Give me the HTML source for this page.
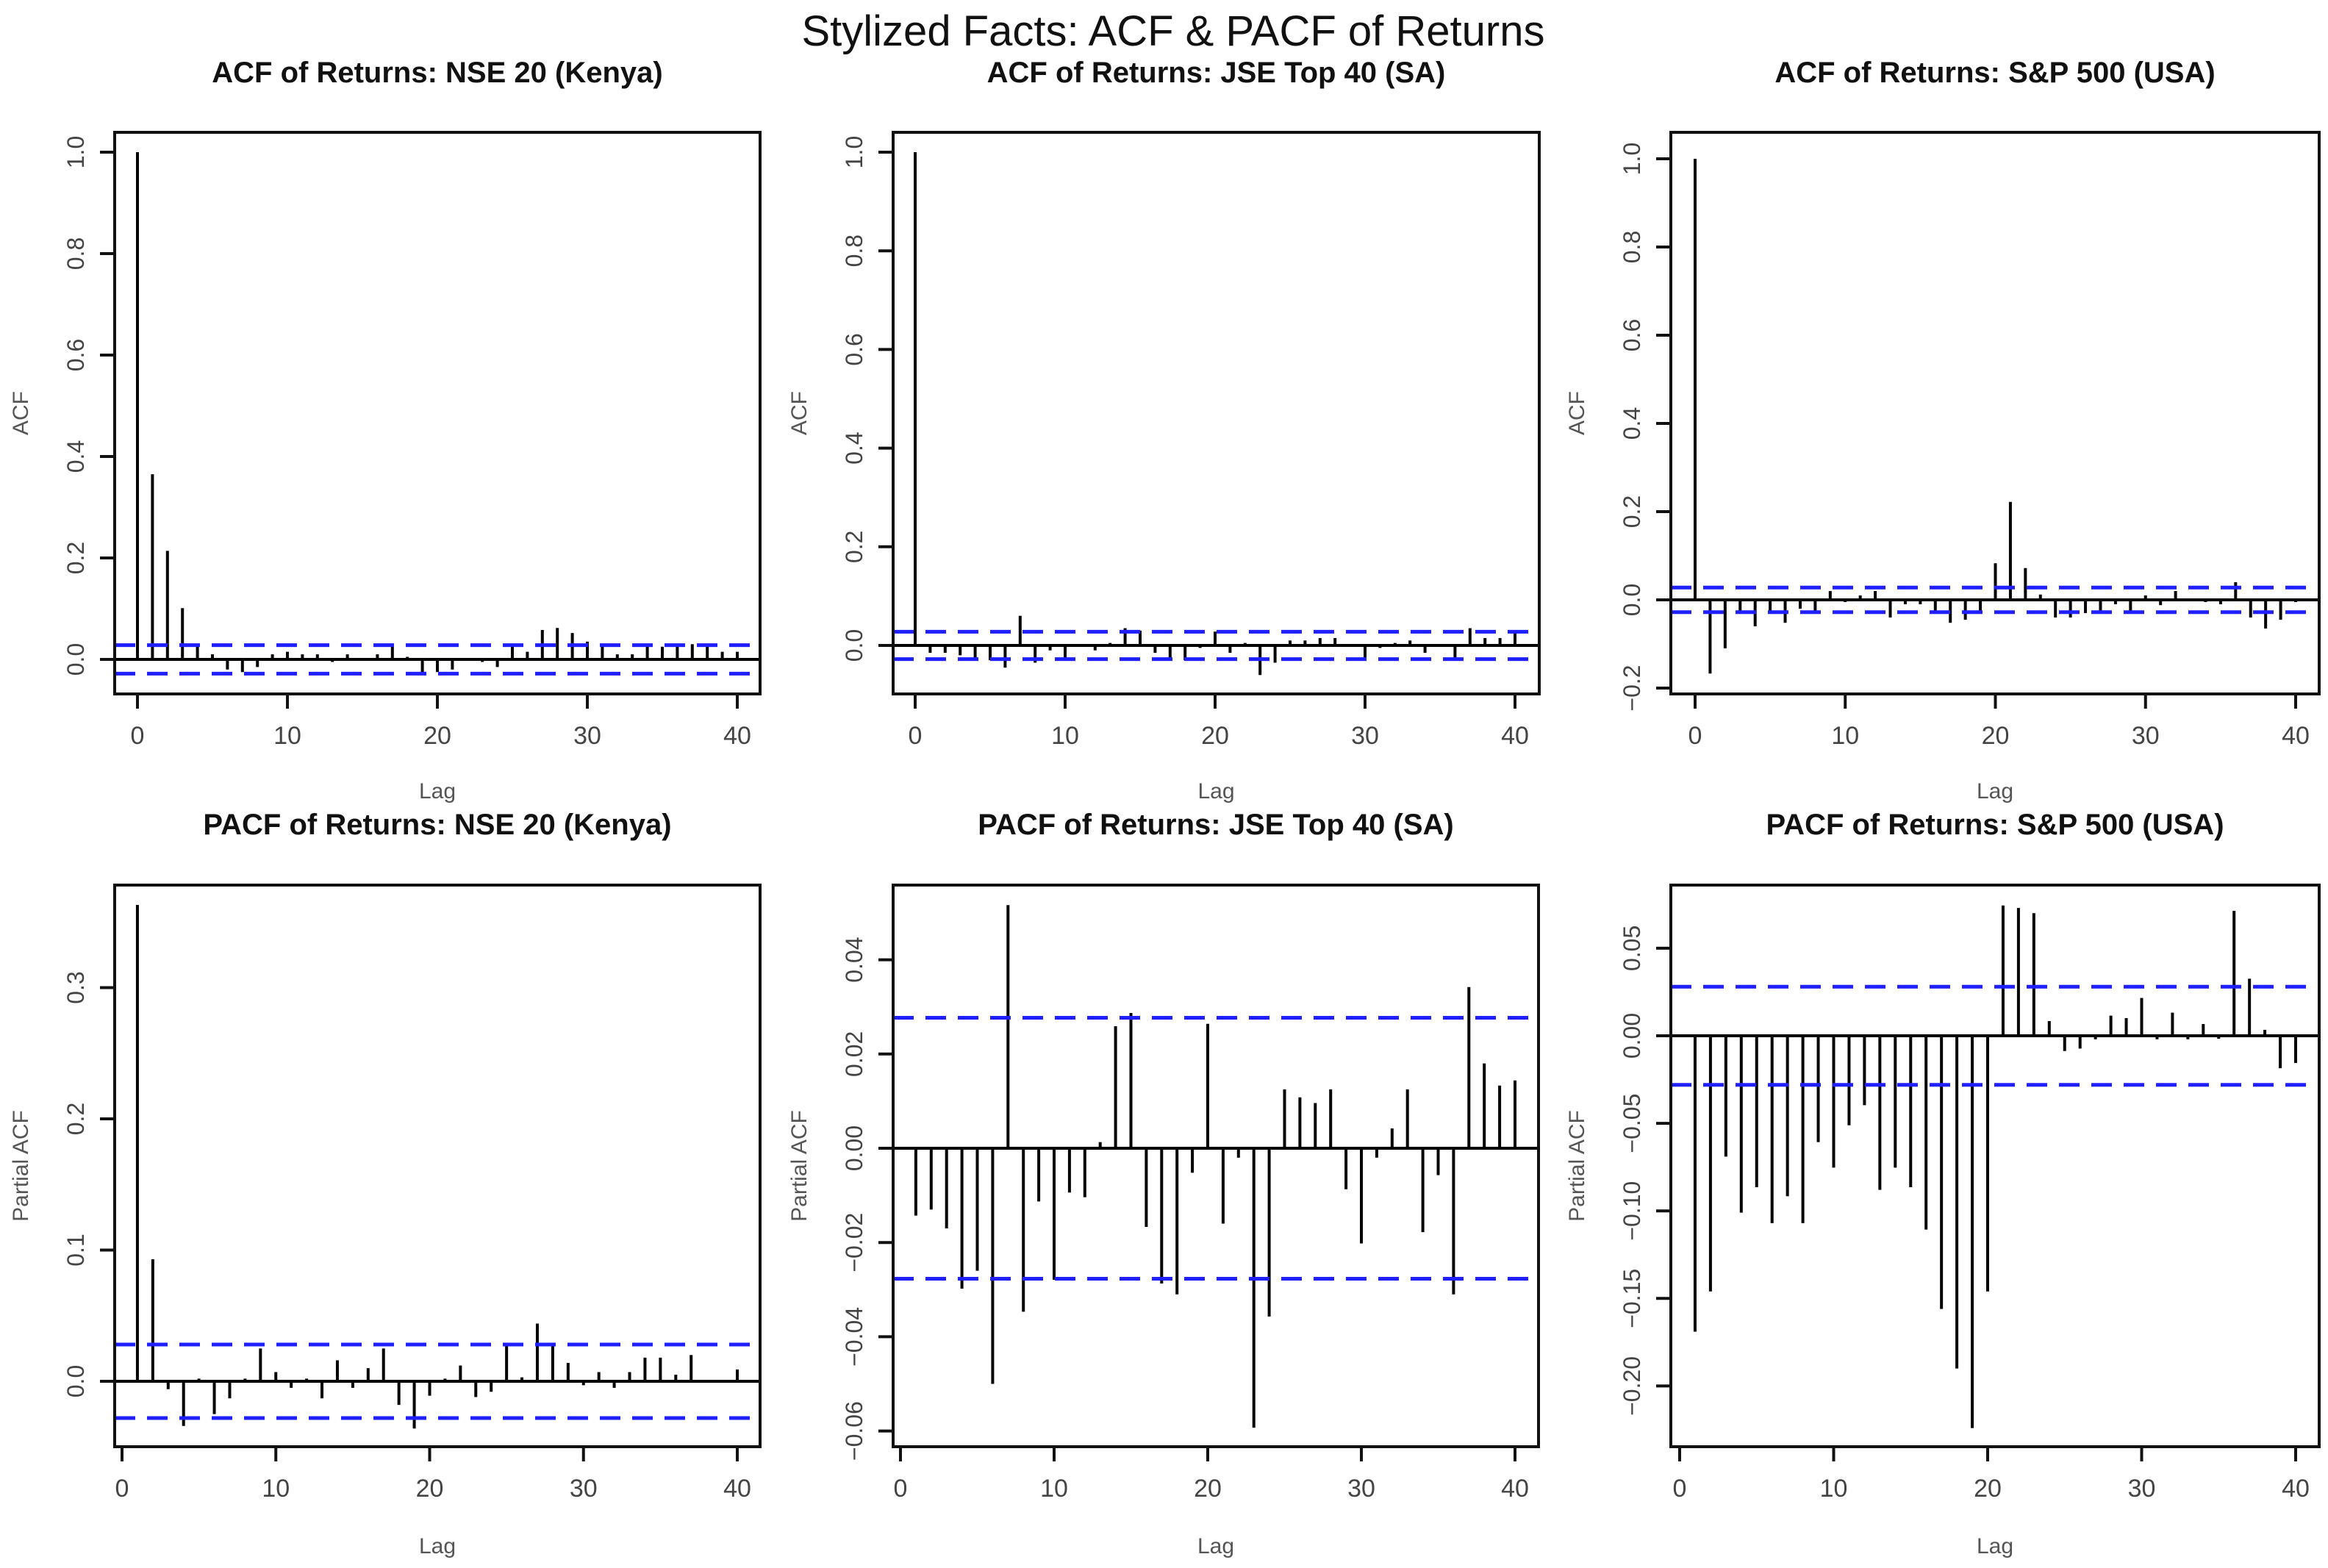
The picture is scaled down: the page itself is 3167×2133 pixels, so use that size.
<!DOCTYPE html>
<html><head><meta charset="utf-8"><style>
html,body{margin:0;padding:0;background:#fff;}
svg{display:block;font-family:"Liberation Sans",Arial,sans-serif;}
</style></head><body>
<svg id="chart" width="3167" height="2133" viewBox="0 0 3167 2133" xmlns="http://www.w3.org/2000/svg">
<rect width="3167" height="2133" fill="#fff"/>
<text x="1596" y="62" font-size="58" text-anchor="middle" fill="#111">Stylized Facts: ACF &amp; PACF of Returns</text>
</svg>
<script>
const lagsAcf = Array.from({length:41},(_,i)=>i);
const lagsPacf = Array.from({length:40},(_,i)=>i+1);
const acfNse = [1,0.365,0.214,0.101,0.03,0.01,-0.02,-0.025,-0.015,0.01,0.015,0.01,0.01,-0.005,0.01,0,0.01,0.025,0.005,-0.025,-0.025,-0.02,0,-0.005,-0.015,0.025,0.015,0.058,0.062,0.052,0.035,0.025,0.01,0.01,0.025,0.025,0.025,0.03,0.025,0.015,0.015];
const acfJse = [1,-0.015,-0.015,-0.02,-0.03,-0.03,-0.045,0.06,-0.035,-0.01,-0.025,0,-0.01,0.005,0.035,0.03,-0.015,-0.03,-0.03,-0.005,0.028,-0.015,0.005,-0.06,-0.035,0.01,0.01,0.015,0.015,0,-0.025,-0.005,0.005,0.01,-0.015,0,-0.03,0.035,0.015,0.015,0.03];
const acfSp = [1,-0.167,-0.11,-0.025,-0.06,-0.03,-0.052,-0.02,-0.03,0.02,-0.005,0.01,0.02,-0.04,-0.01,-0.01,-0.03,-0.052,-0.045,-0.025,0.083,0.222,0.072,0.012,-0.04,-0.04,-0.03,-0.03,-0.01,-0.025,0.01,-0.012,0.02,0,-0.005,-0.01,0.04,-0.04,-0.065,-0.045,-0.005];
const pacfNse = [0.363,0.093,-0.006,-0.034,0.002,-0.025,-0.013,0.002,0.025,0.007,-0.005,0.002,-0.013,0.016,-0.005,0.01,0.025,-0.018,-0.036,-0.011,0.002,0.012,-0.012,-0.008,0.028,0.003,0.044,0.027,0.014,-0.003,0.007,-0.005,0.007,0.018,0.018,0.005,0.02,0,0,0.009];
const pacfJse = [-0.0143,-0.013,-0.017,-0.0298,-0.026,-0.05,0.0516,-0.0347,-0.0113,-0.0279,-0.0094,-0.0104,0.0013,0.0259,0.0287,-0.0167,-0.0287,-0.031,-0.0052,0.0264,-0.016,-0.002,-0.0593,-0.0357,0.0125,0.0108,0.0096,0.0125,-0.0087,-0.0202,-0.002,0.0042,0.0125,-0.0178,-0.0057,-0.031,0.0342,0.018,0.0133,0.0144];
const pacfSp = [-0.169,-0.146,-0.069,-0.101,-0.0865,-0.107,-0.0916,-0.107,-0.0607,-0.0753,-0.0511,-0.0396,-0.088,-0.0753,-0.0865,-0.1107,-0.156,-0.19,-0.224,-0.146,0.0744,0.073,0.07,0.0084,-0.0087,-0.0073,-0.002,0.0115,0.0101,0.0216,-0.002,0.0132,-0.002,0.0067,-0.0017,0.0713,0.0326,0.0034,-0.0185,-0.0155];
const ciNse = 0.028, ciJse = 0.0277, ciSp = 0.028;
const xTicks = [0,10,20,30,40];
const yTicksAcf = [0,0.2,0.4,0.6,0.8,1.0];
const yTicksAcfSp = [-0.2,0,0.2,0.4,0.6,0.8,1.0];
const yTicksPacfNse = [0,0.1,0.2,0.3];
const yTicksPacfJse = [-0.06,-0.04,-0.02,0,0.02,0.04];
const yTicksPacfSp = [-0.2,-0.15,-0.1,-0.05,0,0.05];

const panels = [
 {name:'acf-nse',title:'ACF of Returns: NSE 20 (Kenya)',ylab:'ACF',lags:lagsAcf,vals:acfNse,ci:ciNse,yt:yTicksAcf,dec:1,box:[156,180,1034,944],x0:187,x40:1003,y0:897,ppu:690,ty:98,lagY:1086},
 {name:'acf-jse',title:'ACF of Returns: JSE Top 40 (SA)',ylab:'ACF',lags:lagsAcf,vals:acfJse,ci:ciJse,yt:yTicksAcf,dec:1,box:[1215,180,2094,944],x0:1245,x40:2061,y0:878,ppu:671,ty:98,lagY:1086},
 {name:'acf-sp',title:'ACF of Returns: S&P 500 (USA)',ylab:'ACF',lags:lagsAcf,vals:acfSp,ci:ciSp,yt:yTicksAcfSp,dec:1,box:[2273,180,3155,944],x0:2306,x40:3123,y0:816,ppu:600,ty:98,lagY:1086},
 {name:'pacf-nse',title:'PACF of Returns: NSE 20 (Kenya)',ylab:'Partial ACF',lags:lagsPacf,vals:pacfNse,ci:ciNse,yt:yTicksPacfNse,dec:1,box:[156,1204,1034,1968],x0:166,x40:1003,y0:1879,ppu:1785,ty:1121,lagY:2113},
 {name:'pacf-jse',title:'PACF of Returns: JSE Top 40 (SA)',ylab:'Partial ACF',lags:lagsPacf,vals:pacfJse,ci:ciJse,yt:yTicksPacfJse,dec:2,box:[1215,1204,2093,1968],x0:1225,x40:2061,y0:1562,ppu:6410,ty:1121,lagY:2113},
 {name:'pacf-sp',title:'PACF of Returns: S&P 500 (USA)',ylab:'Partial ACF',lags:lagsPacf,vals:pacfSp,ci:ciSp,yt:yTicksPacfSp,dec:2,box:[2273,1204,3155,1968],x0:2285,x40:3123,y0:1409,ppu:2382,ty:1121,lagY:2113}
];
const NS='http://www.w3.org/2000/svg';
const svg=document.getElementById('chart');
function mk(tag,attrs,parent){const e=document.createElementNS(NS,tag);for(const k in attrs)e.setAttribute(k,attrs[k]);(parent||svg).appendChild(e);return e;}
function fmt(v,d){const s=Math.abs(v).toFixed(d);return (v<-1e-9?'\u2212':'')+s;}
panels.forEach(p=>{
 const g=mk('g',{});
 
 
 const xs=v=>p.x0+(p.x40-p.x0)*v/40;
 const ys=v=>p.y0-p.ppu*v;
 const [l,t,r,b]=p.box; const cx=(l+r)/2;
 const ti=mk('text',{x:cx,y:p.ty+14,'font-size':40,'font-weight':'bold','text-anchor':'middle',fill:'#111'},g);
 ti.textContent=p.title;
 
 
 const zl=mk('line',{x1:l,x2:r,y1:ys(0),y2:ys(0),stroke:'#000','stroke-width':4},g);
 
 
 p.vals.forEach((v,i)=>{
  const s=mk('line',{x1:xs(p.lags[i]),x2:xs(p.lags[i]),y1:ys(0),y2:ys(v),stroke:'#000','stroke-width':4},g);
  
  
 });
 [p.ci,-p.ci].forEach((c,k)=>{
  const d=mk('line',{x1:l,x2:r,y1:ys(c),y2:ys(c),stroke:'#1f1fff','stroke-width':5,'stroke-dasharray':'28 16'},g);
  
  
 });
 const bx=mk('rect',{x:l,y:t,width:r-l,height:b-t,fill:'none',stroke:'#111','stroke-width':4},g);
 
 
 const xa=mk('g',{},g);
 
 
 mk('line',{x1:xs(0),x2:xs(40),y1:b,y2:b,stroke:'#111','stroke-width':3},xa);
 xTicks.forEach(v=>{
  mk('line',{x1:xs(v),x2:xs(v),y1:b,y2:b+20,stroke:'#111','stroke-width':4},xa);
  const tx=mk('text',{x:xs(v),y:b+68,'font-size':34,'text-anchor':'middle',fill:'#444'},xa);
  tx.textContent=v;
  
  
 });
 const lg=mk('text',{x:cx,y:p.lagY,'font-size':30,'text-anchor':'middle',fill:'#555'},g);
 lg.textContent='Lag';
 
 
 const ya=mk('g',{},g);
 
 
 const yt=p.yt;
 mk('line',{x1:l,x2:l,y1:ys(yt[0]),y2:ys(yt[yt.length-1]),stroke:'#111','stroke-width':3},ya);
 yt.forEach(v=>{
  mk('line',{x1:l-20,x2:l,y1:ys(v),y2:ys(v),stroke:'#111','stroke-width':4},ya);
  const tx=mk('text',{x:0,y:0,'font-size':32,'text-anchor':'middle',fill:'#444',transform:`translate(${l-42},${ys(v)}) rotate(-90)`},ya);
  tx.textContent=fmt(v,p.dec);
  
  
 });
 const yl=mk('text',{x:0,y:0,'font-size':30,'text-anchor':'middle',fill:'#555',transform:`translate(${l-118},${(t+b)/2}) rotate(-90)`},g);
 yl.textContent=p.ylab;
 
 
});
</script>
</body></html>
